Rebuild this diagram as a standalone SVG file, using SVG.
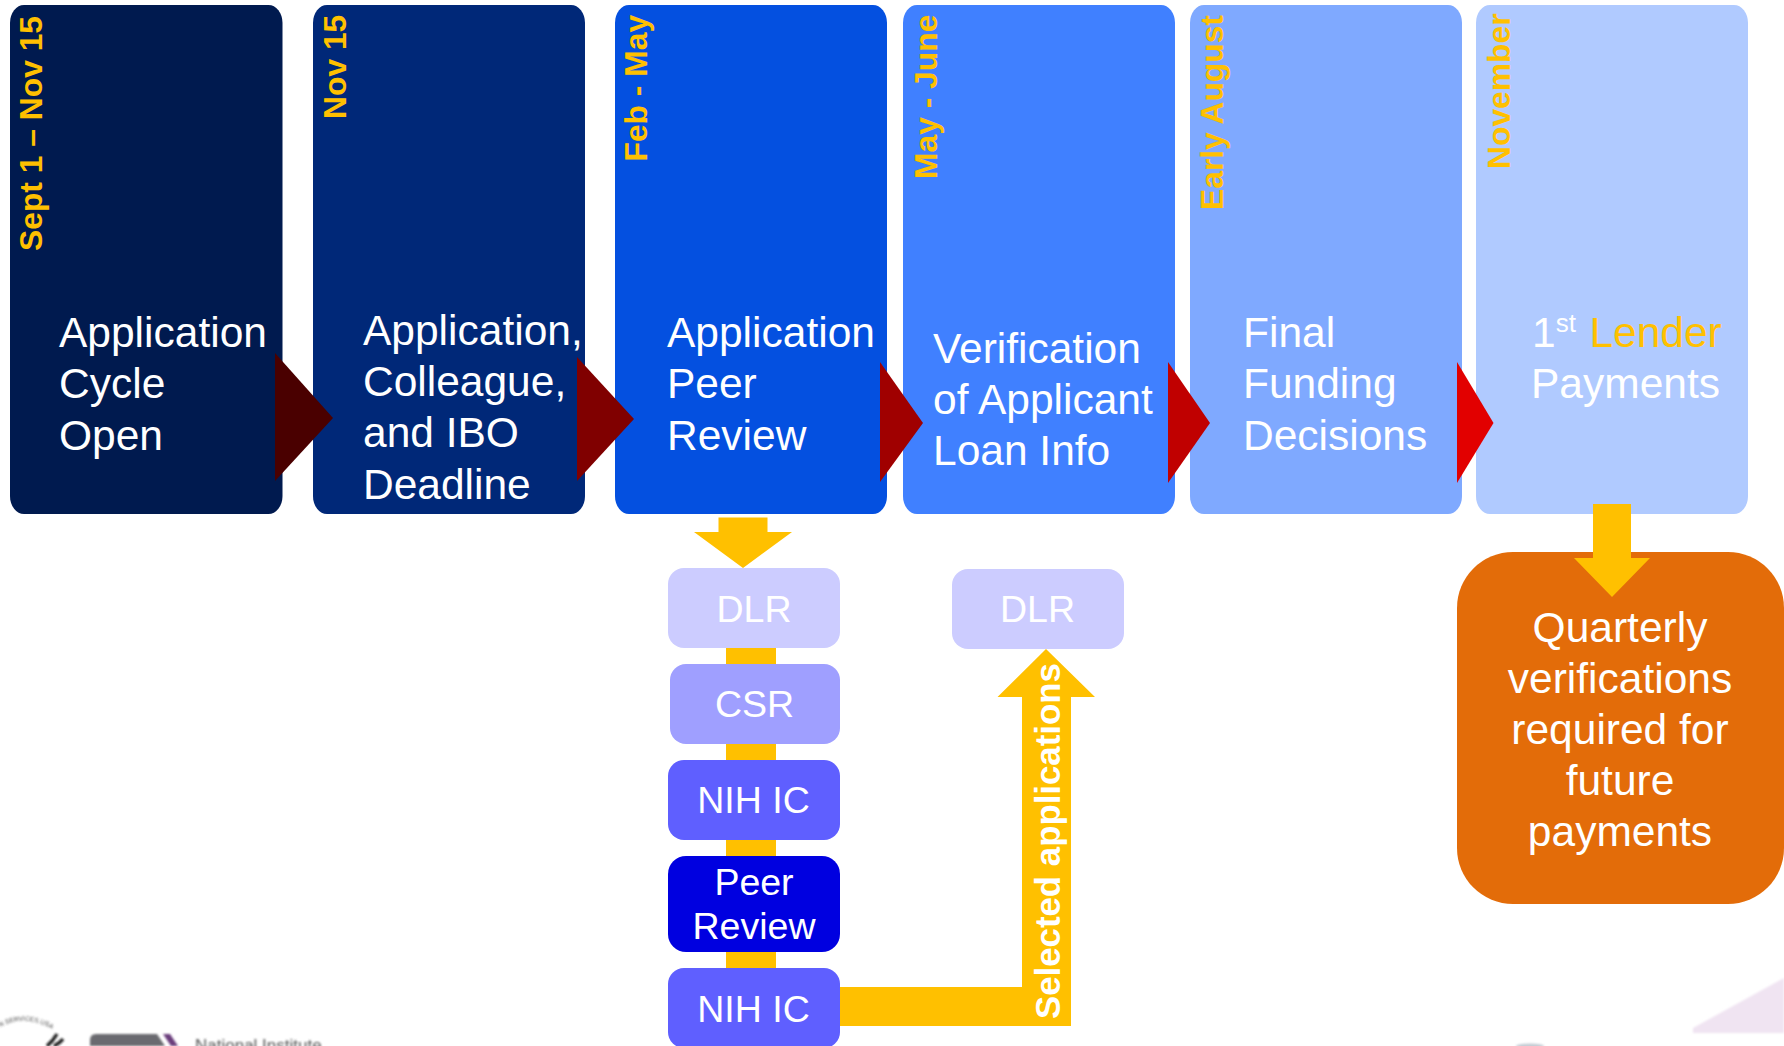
<svg xmlns="http://www.w3.org/2000/svg" width="1784" height="1046" viewBox="0 0 1784 1046">
<defs>
<filter id="blur" x="-10%" y="-50%" width="120%" height="200%"><feGaussianBlur stdDeviation="0.8"/></filter>
<filter id="blur2" x="-30%" y="-100%" width="160%" height="300%"><feGaussianBlur stdDeviation="2.5"/></filter>
<path id="sealArc" d="M0 1027Q28 1012 58 1033"/>
</defs>
<style>
text{font-family:"Liberation Sans",Arial,sans-serif}
.t{font-size:42.5px;fill:#fff}
.s{font-size:37.5px;fill:#fff;text-anchor:middle}
.d{font-size:31.8px;font-weight:bold;fill:#ffc000}
.y{fill:#ffc000}
.b{rx:14px;ry:18px}
</style>
<rect width="1784" height="1046" fill="#fff"/>
<g id="logos">
<path d="M1693 1028L1784 978V1033H1693Z" fill="#f0e4f2" filter="url(#blur)"/>
<ellipse cx="1530" cy="1046" rx="14" ry="2.500" fill="#c4ccd4" filter="url(#blur)"/>
<g filter="url(#blur)">
<path d="M90 1046V1040Q90 1034 96 1034H157L165 1046Z" fill="#6b6b70"/>
<path d="M163 1034H170L178 1046H171Z" fill="#6a3d7c"/>
<text x="195" y="1051" font-size="17" fill="#555">National Institute</text>
<path d="M47 1046Q53 1041 57 1034M54 1046Q60 1043 63 1039" stroke="#222" stroke-width="3.500" fill="none"/>
<text font-size="6.500" fill="#444"><textPath href="#sealArc">N SERVICES.USA</textPath></text>
</g>
</g>
<g id="connectors">
<rect class="y" x="726" y="640" width="50" height="340"/>
<path class="y" d="M840 987H1022V697H997.500L1046 649L1095 697H1071V1026H840Z"/>
<path class="y" d="M718.500 517.500H767.500V532H792L743 568L694 532H718.500Z"/>
</g>
<g id="box1"><rect class="b" x="10" y="5" width="272.500" height="509" fill="#001a4f"/>
<text class="d" transform="translate(42 251) rotate(-90)">Sept 1 – Nov 15</text>
<text class="t" x="59" y="347">Application</text><text class="t" x="59" y="398">Cycle</text><text class="t" x="59" y="450">Open</text></g>
<g id="box2"><rect class="b" x="313" y="5" width="272" height="509" fill="#002878"/>
<text class="d" transform="translate(346 119) rotate(-90)">Nov 15</text>
<text class="t" x="363" y="345">Application,</text><text class="t" x="363" y="396">Colleague,</text><text class="t" x="363" y="447">and IBO</text><text class="t" x="363" y="498.500">Deadline</text></g>
<g id="box3"><rect class="b" x="615" y="5" width="272" height="509" fill="#0450e0"/>
<text class="d" transform="translate(647 161.500) rotate(-90)">Feb - May</text>
<text class="t" x="667" y="347">Application</text><text class="t" x="667" y="398">Peer</text><text class="t" x="667" y="450">Review</text></g>
<g id="box4"><rect class="b" x="903" y="5" width="272" height="509" fill="#4080ff"/>
<text class="d" transform="translate(936.500 179) rotate(-90)">May - June</text>
<text class="t" x="933" y="363">Verification</text><text class="t" x="933" y="414">of Applicant</text><text class="t" x="933" y="465">Loan Info</text></g>
<g id="box5"><rect class="b" x="1190" y="5" width="272" height="509" fill="#7fa9ff"/>
<text class="d" transform="translate(1223 210) rotate(-90)">Early August</text>
<text class="t" x="1243" y="347">Final</text><text class="t" x="1243" y="398">Funding</text><text class="t" x="1243" y="450">Decisions</text></g>
<g id="box6"><rect class="b" x="1476" y="5" width="272" height="509" fill="#b0caff"/>
<text class="d" transform="translate(1510 169) rotate(-90)">November</text>
<text class="t" x="1532" y="347">1<tspan font-size="26" dy="-15">st</tspan><tspan dy="15" dx="13.500" fill="#ffc000">Lender</tspan></text><text class="t" x="1531" y="398">Payments</text></g>
<g id="arrows">
<path d="M275 353L333 418L275 481Z" fill="#4a0000"/>
<path d="M577 357L634 419L577 481Z" fill="#800000"/>
<path d="M880 362L923 423L880 482Z" fill="#a00000"/>
<path d="M1168 362L1210 423L1168 483Z" fill="#c00000"/>
<path d="M1457 362L1493.500 423L1457 483Z" fill="#e20000"/>
</g>
<g id="dlr1"><rect x="668" y="568" width="172" height="80" rx="16" fill="#ccccff"/><text class="s" x="754" y="621.500">DLR</text></g>
<g id="csr"><rect x="670" y="664" width="170" height="80" rx="16" fill="#9f9fff"/><text class="s" x="754.500" y="717">CSR</text></g>
<g id="nih1"><rect x="668" y="760" width="172" height="80" rx="16" fill="#5f5fff"/><text class="s" x="753.500" y="813">NIH IC</text></g>
<g id="peer"><rect x="668" y="856" width="172" height="96" rx="18" fill="#0000e0"/><text class="s" x="754" y="894.500">Peer</text><text class="s" x="754" y="939">Review</text></g>
<g id="nih2"><rect x="668" y="968" width="172" height="80" rx="16" fill="#5f5fff"/><text class="s" x="753.500" y="1021.500">NIH IC</text></g>
<g id="dlr2"><rect x="952" y="569" width="172" height="80" rx="16" fill="#ccccff"/><text class="s" x="1037.500" y="622">DLR</text></g>
<g id="quarterly"><rect x="1457" y="552" width="327" height="352" rx="56" fill="#e36c09"/>
<text class="t" text-anchor="middle" x="1620" y="642">Quarterly</text><text class="t" text-anchor="middle" x="1620" y="693">verifications</text><text class="t" text-anchor="middle" x="1620" y="744">required for</text><text class="t" text-anchor="middle" x="1620" y="795">future</text><text class="t" text-anchor="middle" x="1620" y="846">payments</text></g>
<path class="y" d="M1593 504H1631V558H1650L1612 597L1574 558H1593Z"/>
<text transform="translate(1059.500 1019) rotate(-90)" font-size="34.800" font-weight="bold" fill="#fff">Selected applications</text>
</svg>
